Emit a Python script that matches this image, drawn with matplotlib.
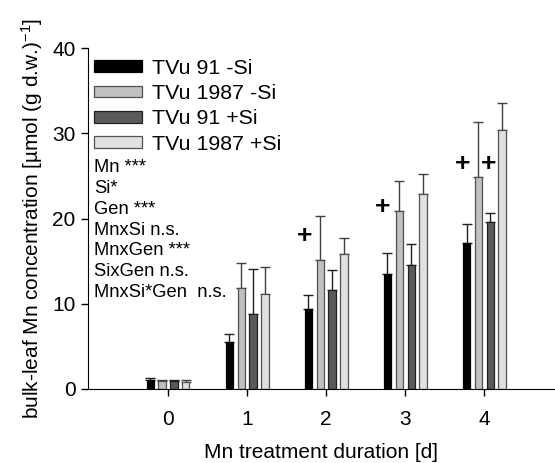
import matplotlib
matplotlib.use('Agg')
import matplotlib.pyplot as plt
import numpy as np

plt.rcParams['font.family'] = ['Liberation Sans', 'DejaVu Sans']
plt.rcParams['mathtext.fontset'] = 'custom'
plt.rcParams['mathtext.rm'] = 'Liberation Sans'
plt.rcParams['mathtext.it'] = 'Liberation Sans:italic'

# data
days = [0, 1, 2, 3, 4]
series = ['TVu 91 -Si', 'TVu 1987 -Si', 'TVu 91 +Si', 'TVu 1987 +Si']
mean_91_noSi = [1.05, 5.5, 9.4, 13.45, 17.1]
mean_1987_noSi = [0.95, 11.8, 15.1, 20.85, 24.9]
mean_91_Si = [0.95, 8.8, 11.6, 14.6, 19.6]
mean_1987_Si = [0.85, 11.2, 15.8, 22.9, 30.35]
top_91_noSi = [1.25, 6.4, 11.0, 16.0, 19.4]
top_1987_noSi = [1.1, 14.8, 20.3, 24.4, 31.3]
top_91_Si = [1.1, 14.1, 14.0, 17.0, 20.7]
top_1987_Si = [1.0, 14.3, 17.7, 25.25, 33.5]

plus_x = [1.73, 2.71, 3.72, 4.05]
plus_y = [17.9, 21.3, 26.4, 26.4]

stats = ['Mn ***', 'Si*', 'Gen ***', 'MnxSi n.s.', 'MnxGen ***',
         'SixGen n.s.', 'MnxSi*Gen  n.s.']

means = [mean_91_noSi, mean_1987_noSi, mean_91_Si, mean_1987_Si]
tops = [top_91_noSi, top_1987_noSi, top_91_Si, top_1987_Si]
colors = ['#000000', '#c0c0c0', '#5a5a5a', '#e0e0e0']
edges = ['#000000', '#505050', '#202020', '#505050']
errc = ['#202020', '#404040', '#202020', '#404040']
offsets = [-0.225, -0.075, 0.075, 0.225]
width = 0.092

fig = plt.figure(figsize=(5.55, 4.63), dpi=100)
ax = fig.add_axes([88/555, 1-389/463, 467/555, 341/463])

x = np.array(days, dtype=float)
handles = []
for m, t, c, e, ec, off, lab in zip(means, tops, colors, edges, errc, offsets, series):
    m = np.array(m)
    t = np.array(t)
    b = ax.bar(x + off, m, width=width, color=c, edgecolor=e, linewidth=0.9,
               label=lab, zorder=2)
    handles.append(b)
    ax.errorbar(x + off, m, yerr=[np.zeros_like(m), t - m], fmt='none',
                ecolor=ec, elinewidth=1.0, capsize=3.6, capthick=1.0, zorder=1)

for px, py in zip(plus_x, plus_y):
    ax.text(px, py, '+', fontsize=19, fontweight='bold', ha='center', va='center')

ax.set_xlim(-1.012, 4.894)
ax.set_ylim(0, 40)
ax.set_xticks(days)
ax.set_yticks([0, 10, 20, 30, 40])
ax.spines['top'].set_visible(False)
ax.spines['right'].set_visible(False)
ax.tick_params(axis='both', direction='out', length=5, width=1, labelsize=15)
ax.tick_params(axis='x', pad=10)
ax.tick_params(axis='y', pad=4)

ax.set_xlabel('Mn treatment duration [d]', fontsize=15, labelpad=10)
ax.set_ylabel('bulk-leaf Mn concentration [\u00b5mol (g d.w.)$^{-1}$]', fontsize=15,
              labelpad=5)

leg = ax.legend(handles=handles, loc='upper left', bbox_to_anchor=(0.013, 0.968),
                frameon=False, fontsize=15.4, handlelength=2.25, handleheight=0.47,
                handletextpad=0.47, labelspacing=0.29, borderpad=0, borderaxespad=0)

for i, s in enumerate(stats):
    ypix = 168 + i * 20.67
    ax.text(6/467, (389 - ypix)/341, s, transform=ax.transAxes, fontsize=13.2,
            ha='left', va='center')

fig.savefig('out.png', dpi=100)
